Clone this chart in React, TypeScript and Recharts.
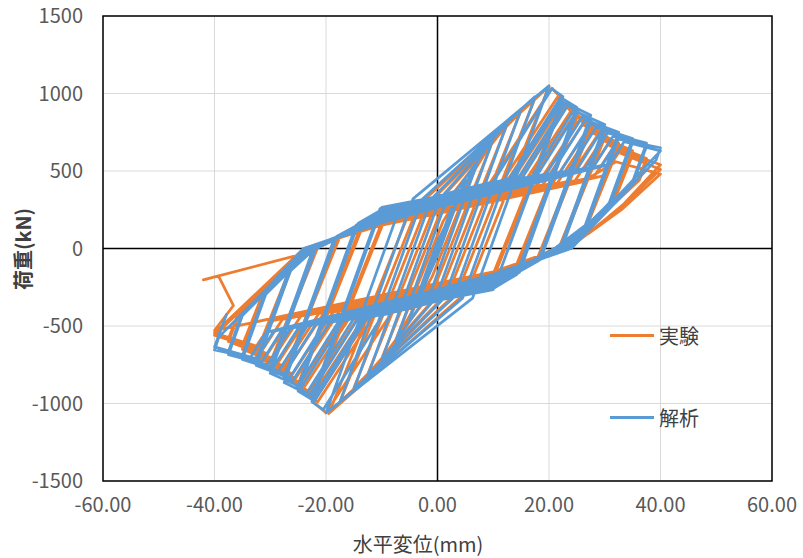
import {
  CartesianGrid,
  Line,
  LineChart,
  ReferenceArea,
  ReferenceLine,
  XAxis,
  YAxis,
} from "recharts"

const xTicks = [-60, -40, -20, 0, 20, 40, 60]
const yTicks = [-1500, -1000, -500, 0, 500, 1000, 1500]
const seriesNames = ["実験", "解析"]
const seriesColors = ["#ED7D31", "#5B9BD5"]

// 実験: [水平変位 mm, 荷重 kN], cycles up to peak load
const experimentPrePeak: [number, number][] = [
  [0, 0], [2.5, 240], [-0.2, -10], [-2.5, -250],
  [0.4, 10], [5, 430], [-0.5, -65], [-5, -440],
  [0.5, 55], [7.5, 580], [-1.0, -185], [-7.5, -590],
  [1.0, 175], [10, 700], [-0.7, -263], [-10, -710],
  [0.9, 270], [12.5, 800], [0.5, -280], [-12.5, -810],
  [-0.4, 280], [15, 890], [2.0, -280], [-15, -900],
  [-1.9, 280], [17.5, 970], [3.6, -280], [-17.5, -990],
  [-3.4, 280], [20, 1045], [5.3, -280], [-19.5, -1065],
]

// 実験: cycles after peak load (two cycles per amplitude)
const experimentPostPeak: [number, number][] = [
  [-5.1, 231], [0, 300], [8.4, 367], [20.5, 1035], [22.5, 960],
  [10.0, -163], [0, -300], [-7.2, -358], [-20, -1060], [-22.5, -985],
  [-9.7, 167], [0, 295], [10.7, 381], [21.5, 975], [22.5, 935],
  [10.4, -156], [0, -295], [-10.4, -378], [-21.5, -990], [-22.5, -960],
  [-10.1, 156], [0, 290], [11.5, 382], [22, 960], [25, 870],
  [13.6, -156], [10, -220], [0, -290], [-11.2, -380], [-22, -975], [-25, -900],
  [-13.3, 153], [-10, 215], [0, 285], [12.4, 384], [22.5, 940], [25, 845],
  [14.0, -145], [10, -215], [0, -285], [-12.1, -382], [-22.5, -955], [-25, -875],
  [-13.7, 146], [-10, 210], [0, 280], [13.4, 387], [23, 915], [27.5, 800],
  [17.8, -73], [10, -210], [0, -280], [-13.2, -386], [-23, -925], [-27.5, -820],
  [-17.5, 76], [-10, 205], [0, 275], [15, 395], [24, 890], [27.5, 775],
  [18.2, -65], [10, -205], [0, -275], [-14.8, -393], [-24, -900], [-27.5, -795],
  [-17.9, 69], [-10, 200], [0, 270], [16.1, 399], [24.5, 860], [30, 740],
  [21.7, -4], [10, -200], [0, -270], [-15.9, -397], [-24.5, -870], [-30, -760],
  [-21.5, 5], [-10, 195], [0, 265], [17.8, 407], [25.5, 830], [30, 715],
  [22, 0], [10, -195], [0, -265], [-17.6, -406], [-25.5, -840], [-30, -735],
  [-21.8, 3], [-10, 190], [0, 260], [18.9, 411], [26, 800], [32.5, 680],
  [26.5, 140], [21, 0], [10, -190], [0, -260], [-18.7, -410], [-26, -810], [-32.5, -700],
  [-26.2, -131], [-22, 0], [-10, 185], [0, 255], [20.6, 420], [27, 770], [32.5, 655],
  [26.9, 153], [22, 0], [10, -185], [0, -255], [-20.4, -418], [-27, -780], [-32.5, -675],
  [-26.6, -144], [-22.5, 0], [-10, 180], [0, 250], [21.5, 422], [27.5, 750], [35, 630],
  [31.2, 286], [22.5, 0], [10, -180], [0, -250], [-21.3, -421], [-27.5, -760], [-35, -650],
  [-30.8, -274], [-22.5, 0], [-10, 175], [0, 245], [23.2, 431], [28.5, 720], [35, 605],
  [31.6, 299], [22.5, 0], [10, -175], [0, -245], [-23, -429], [-28.5, -730], [-35, -625],
  [-31.3, -289], [-23, 0], [-10, 170], [0, 240], [24.7, 438], [29.5, 700], [37.5, 580],
  [35.8, 430], [23, 0], [10, -170], [0, -240], [-24.5, -436], [-29.5, -710], [-37.5, -600],
  [-35.5, -420], [-23, 0], [-10, 165], [0, 238], [26.5, 450], [30.5, 670], [37.5, 560],
  [36.2, 441], [23, 0], [10, -165], [0, -238], [-26.3, -448], [-30.5, -680], [-37.5, -580],
  [-35.8, -430], [-23.5, 0], [-10, 160], [0, 235], [28, 459], [31.5, 650], [40, 540],
  [33.5, 290], [27.5, 110], [23.5, 0], [10, -160], [0, -235], [-27.8, -457], [-31.5, -660], [-40, -560],
  [-23.5, 0], [-10, 155], [0, 230], [29.7, 468], [32.5, 620], [40, 510],
  [33, 270], [27, 100], [23.5, 0], [10, -155], [0, -230], [-29.5, -466], [-32.5, -630], [-40, -545],
  [-24, 0], [-10, 150], [0, 225], [26, 430], [32, 560], [40, 480],
  [33, 250], [27, 95], [22, 0], [10, -150], [0, -225], [-40, -530],
  [-36.6, -368], [-39.3, -177], [-42, -202], [-24.5, -38],
]

// 解析: cycles up to peak load
const analysisPrePeak: [number, number][] = [
  [0, 0], [2.5, 260], [-0.3, -20], [-2.5, -260],
  [0.3, 20], [5, 450], [0.2, -30], [-5, -450],
  [-0.2, 30], [7.5, 590], [-1.0, -260], [-7.5, -600],
  [1.0, 250], [10, 710], [-0.3, -320], [-10, -720],
  [0.4, 320], [12.5, 810], [1.2, -320], [-12.5, -820],
  [-1.1, 320], [15, 900], [2.8, -320], [-15, -910],
  [-2.7, 320], [17.5, 980], [4.5, -320], [-17.5, -990],
  [-4.4, 320], [20, 1050], [6.3, -320], [-20, -1060],
]

// 解析: cycles after peak load (two cycles per amplitude)
const analysisPostPeak: [number, number][] = [
  [-7.1, 230], [0, 340], [10, 430], [20.5, 1030], [22.5, 980],
  [11, -170], [0, -340], [-9.8, -428], [-20.5, -1040], [-22.5, -990],
  [-10, 265], [0, 335], [12.9, 451], [22, 970], [22.5, 950],
  [10, -265], [0, -335], [-12.7, -449], [-22, -980], [-22.5, -960],
  [-10.3, 258], [0, 330], [13.5, 451], [22.5, 965], [25, 910],
  [14.2, -168], [10, -258], [0, -330], [-13.3, -450], [-22.5, -975], [-25, -920],
  [-14.2, 163], [-10, 250], [0, 325], [14.5, 455], [23, 940], [25, 880],
  [14.7, -153], [10, -250], [0, -325], [-14.3, -454], [-23, -950], [-25, -890],
  [-14.6, 150], [-10, 243], [0, 320], [15.2, 457], [23.5, 930], [27.5, 860],
  [18.1, -80], [10, -243], [0, -320], [-15.1, -456], [-23.5, -935], [-27.5, -865],
  [-18.1, 77], [-10, 236], [0, 315], [17, 468], [24.5, 895], [27.5, 830],
  [18.5, -70], [10, -236], [0, -315], [-16.9, -467], [-24.5, -900], [-27.5, -835],
  [-18.5, 67], [-10, 229], [0, 310], [17.8, 470], [25, 880], [30, 800],
  [22, 0], [10, -229], [0, -310], [-17.7, -469], [-25, -885], [-30, -805],
  [-21.8, 5], [-10, 222], [0, 305], [19.5, 481], [26, 850], [30, 770],
  [22.4, 13], [10, -222], [0, -305], [-19.4, -480], [-26, -855], [-30, -775],
  [-22.4, -13], [-10, 215], [0, 300], [20.4, 484], [26.5, 830], [32.5, 750],
  [26.5, 150], [21, 0], [10, -215], [0, -300], [-20.3, -483], [-26.5, -835], [-32.5, -755],
  [-26.4, -145], [-22, 0], [-10, 208], [0, 295], [22, 493], [27.5, 805], [32.5, 720],
  [26.9, 163], [22, 0], [10, -208], [0, -295], [-21.9, -492], [-27.5, -810], [-32.5, -725],
  [-26.9, -165], [-22.8, 0], [-10, 201], [0, 290], [23.5, 502], [28.5, 785], [35, 710],
  [30.8, 294], [23, 0], [10, -201], [0, -290], [-23.4, -501], [-28.5, -790], [-35, -715],
  [-30.8, -295], [-22.5, 0], [-10, 194], [0, 285], [25, 510], [29.5, 765], [35, 685],
  [31.2, 305], [22.5, 0], [10, -194], [0, -285], [-24.9, -509], [-29.5, -770], [-35, -690],
  [-31.1, -305], [-23.5, 0], [-10, 187], [0, 280], [26.5, 519], [30.5, 745], [37.5, 680],
  [35, 432], [23.5, 0], [10, -187], [0, -280], [-26.4, -518], [-30.5, -750], [-37.5, -685],
  [-35, -433], [-23, 0], [-10, 180], [0, 275], [28, 527], [31.5, 725], [37.5, 660],
  [35.3, 443], [23, 0], [10, -180], [0, -275], [-27.9, -526], [-31.5, -730], [-37.5, -665],
  [-35.3, -443], [-24, 0], [-10, 173], [0, 270], [29.5, 536], [32.5, 705], [40, 650],
  [39.2, 570], [24, 0], [10, -173], [0, -270], [-29.4, -535], [-32.5, -710], [-40, -655],
  [-39.2, -570], [-23.5, 0], [-10, 166], [0, 265], [30.9, 543], [33.5, 690], [40, 630],
  [23.5, 0], [10, -166], [0, -265], [-30.7, -541], [-33.5, -700], [-40, -635],
  [-37.8, -420],
]

const toPoints = (pairs: [number, number][]) => pairs.map(([x, y]) => ({ x, y }))

const experimentData = toPoints([...experimentPrePeak, ...experimentPostPeak])
const analysisData = toPoints([...analysisPrePeak, ...analysisPostPeak])

const tickFont = "'Liberation Sans Narrow', 'Noto Sans CJK JP', sans-serif"
const jpFont = "'Noto Sans CJK JP', sans-serif"

export default function App() {
  return (
    <div style={{ position: "absolute", left: 0, top: 0, width: 803, height: 558, background: "#fff" }}>
      <LineChart
        width={803}
        height={558}
        margin={{ top: 16, right: 31, bottom: 0, left: 43 }}
      >
        <CartesianGrid stroke="#d9d9d9" strokeWidth={1} />
        <XAxis
          type="number"
          dataKey="x"
          domain={[-60, 60]}
          ticks={xTicks}
          allowDataOverflow
          height={77}
          axisLine={false}
          tickLine={false}
          tickMargin={11}
          tickFormatter={(v: number) => v.toFixed(2)}
          tick={{ fill: "#595959", fontSize: 20, fontFamily: tickFont }}
        />
        <YAxis
          type="number"
          dataKey="y"
          domain={[-1500, 1500]}
          ticks={yTicks}
          allowDataOverflow
          width={60}
          axisLine={false}
          tickLine={false}
          tickMargin={14}
          tick={{ fill: "#595959", fontSize: 20, fontFamily: tickFont }}
        />
        <ReferenceLine x={0} stroke="#000" strokeWidth={1.5} />
        <ReferenceLine y={0} stroke="#000" strokeWidth={1.5} />
        <Line
          data={experimentData}
          dataKey="y"
          name={seriesNames[0]}
          type="linear"
          stroke={seriesColors[0]}
          strokeWidth={2.75}
          strokeLinejoin="round"
          dot={false}
          activeDot={false}
          isAnimationActive={false}
        />
        <Line
          data={analysisData}
          dataKey="y"
          name={seriesNames[1]}
          type="linear"
          stroke={seriesColors[1]}
          strokeWidth={2.75}
          strokeLinejoin="round"
          dot={false}
          activeDot={false}
          isAnimationActive={false}
        />
        <ReferenceArea
          x1={-60}
          x2={60}
          y1={-1500}
          y2={1500}
          fill="none"
          fillOpacity={0}
          stroke="#000"
          strokeWidth={1.5}
        />
      </LineChart>
      {seriesNames.map((name, i) => (
        <div
          key={name}
          style={{
            position: "absolute",
            left: 610,
            top: 320 + i * 82,
            height: 30,
            display: "flex",
            alignItems: "center",
            fontFamily: jpFont,
          }}
        >
          <span
            style={{
              display: "inline-block",
              width: 44,
              height: 3,
              background: seriesColors[i],
              marginRight: 5,
            }}
          />
          <span style={{ fontSize: 20, color: "#404040" }}>{name}</span>
        </div>
      ))}
      <div
        style={{
          position: "absolute",
          left: 22,
          top: 249,
          transform: "translate(-50%, -50%) rotate(-90deg)",
          whiteSpace: "nowrap",
          fontFamily: jpFont,
          fontSize: 20,
          fontWeight: 700,
          color: "#404040",
        }}
      >
        荷重(kN)
      </div>
      <div
        style={{
          position: "absolute",
          left: 418,
          top: 543,
          transform: "translate(-50%, -50%)",
          whiteSpace: "nowrap",
          fontFamily: jpFont,
          fontSize: 20,
          color: "#404040",
        }}
      >
        水平変位(mm)
      </div>
    </div>
  )
}
